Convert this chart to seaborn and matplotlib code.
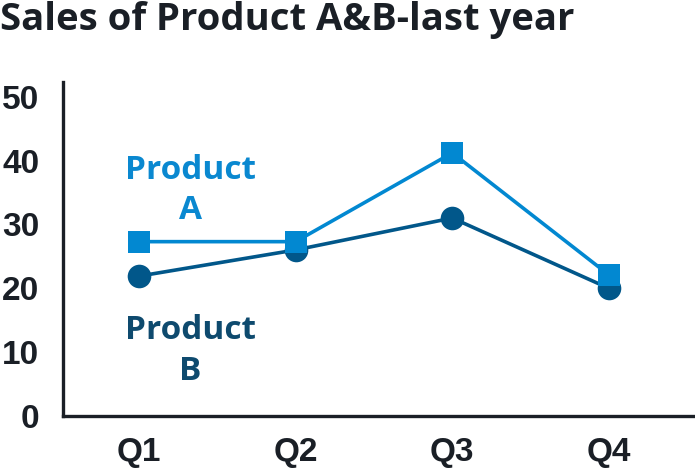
import matplotlib
matplotlib.use("Agg")
import matplotlib.pyplot as plt
import seaborn as sns
import pandas as pd

quarters = ["Q1", "Q2", "Q3", "Q4"]
product_a = [27.3, 27.3, 41.2, 22.1]
product_b = [21.9, 26.0, 31.0, 20.0]
y_ticks = [0, 10, 20, 30, 40, 50]

sns.set_theme(style="white")
plt.rcParams['font.family'] = ['Liberation Sans', 'DejaVu Sans']

fig = plt.figure(figsize=(6.95, 4.69), dpi=100)
ax = fig.add_axes([63/695, 53/469, (695-63)/695, (416-82)/469])

dfa = pd.DataFrame({"q": quarters, "v": product_a})
dfb = pd.DataFrame({"q": quarters, "v": product_b})

col_a = "#0288D1"
col_b = "#01578A"

sns.lineplot(data=dfb, x="q", y="v", ax=ax, color=col_b, linewidth=2.6,
             marker="o", markersize=17, markeredgewidth=0, zorder=3)
sns.lineplot(data=dfa, x="q", y="v", ax=ax, color=col_a, linewidth=2.6,
             marker="s", markersize=16, markeredgewidth=0, zorder=4)

ax.set_xlim(-0.485, 3.55)
ax.set_ylim(0, 52.3)
ax.set_yticks(y_ticks)
ax.set_xlabel("")
ax.set_ylabel("")
for s in ["top", "right"]:
    ax.spines[s].set_visible(False)
for s in ["left", "bottom"]:
    ax.spines[s].set_linewidth(2.4)
    ax.spines[s].set_color("#1a1f26")
ax.tick_params(axis="both", length=0, labelcolor="#1a1f26", labelsize=24)
ax.tick_params(axis="y", pad=17)
ax.tick_params(axis="x", pad=15)
for lab in ax.get_xticklabels() + ax.get_yticklabels():
    lab.set_fontweight("bold")

ax.text(0.33, 35.3, "Product\nA", color="#0A88D0", fontsize=24, fontweight="bold",
        ha="center", va="center", linespacing=1.3, family=["Open Sans", "DejaVu Sans"])
ax.text(0.33, 10.2, "Product\nB", color="#0E4A6E", fontsize=24, fontweight="bold",
        ha="center", va="center", linespacing=1.3, family=["Open Sans", "DejaVu Sans"])

fig.text(0.0, 1 - 20/469, "Sales of Product A&B-last year", fontsize=27.5,
         fontweight="bold", color="#1a1f26", ha="left", va="center",
         family=["Open Sans", "DejaVu Sans"])

fig.savefig("out.png", dpi=100)
